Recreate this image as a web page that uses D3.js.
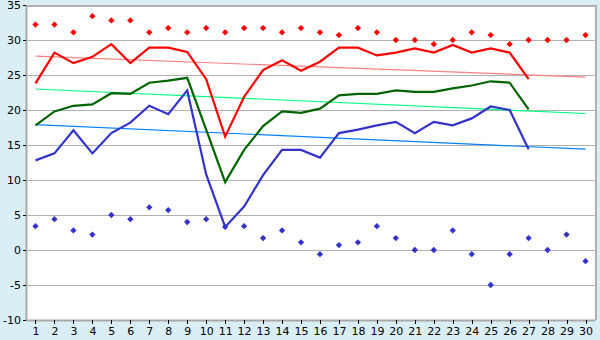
<!DOCTYPE html>
<html>
<head>
<meta charset="utf-8">
<script src="https://cdn.jsdelivr.net/npm/d3@7/dist/d3.min.js"></script>
<style>
  html, body { margin: 0; padding: 0; background: #daeef5; }
  svg { display: block; }
  text { font-family: "DejaVu Sans", Verdana, sans-serif; font-size: 11px; fill: #000; }
</style>
</head>
<body>
<svg id="chart" width="600" height="340"></svg>
<script>
const days = d3.range(1, 31);
const lineDays = d3.range(1, 28);
const yTicks = [-10, -5, 0, 5, 10, 15, 20, 25, 30, 35];

const recordMax = [32.2, 32.2, 31.1, 33.4, 32.8, 32.8, 31.1, 31.7, 31.1, 31.7,
                   31.1, 31.7, 31.7, 31.1, 31.7, 31.1, 30.7, 31.7, 31.1, 30.0,
                   30.0, 29.4, 30.0, 31.1, 30.7, 29.4, 30.0, 30.0, 30.0, 30.7];
const recordMin = [3.4, 4.4, 2.8, 2.2, 5.0, 4.4, 6.1, 5.7, 4.0, 4.4,
                   3.3, 3.4, 1.7, 2.8, 1.1, -0.6, 0.7, 1.1, 3.4, 1.7,
                   0.0, 0.0, 2.8, -0.6, -5.0, -0.6, 1.7, 0.0, 2.2, -1.6];
const meanMax = [23.8, 28.2, 26.7, 27.6, 29.4, 26.7, 28.9, 28.9, 28.3, 24.4,
                 16.2, 21.9, 25.7, 27.1, 25.6, 26.9, 28.9, 28.9, 27.8, 28.2,
                 28.8, 28.2, 29.3, 28.2, 28.8, 28.2, 24.4];
const meanAvg = [17.8, 19.8, 20.6, 20.8, 22.4, 22.3, 23.9, 24.2, 24.6, 17.2,
                 9.7, 14.3, 17.7, 19.8, 19.6, 20.2, 22.1, 22.3, 22.3, 22.8,
                 22.6, 22.6, 23.1, 23.5, 24.1, 23.9, 20.1];
const meanMin = [12.8, 13.8, 17.1, 13.8, 16.7, 18.2, 20.6, 19.4, 22.8, 10.8,
                 3.3, 6.2, 10.7, 14.3, 14.3, 13.2, 16.7, 17.2, 17.8, 18.3,
                 16.7, 18.3, 17.8, 18.8, 20.5, 20.0, 14.4];
const trendDays = [1, 30];
const trendMax = [27.7, 24.7];
const trendAvg = [23.0, 19.5];
const trendMin = [17.9, 14.4];

const svg = d3.select("#chart");
const mLeft = 26, mRight = 595, mTop = 5, mBottom = 320;

const x = d3.scalePoint().domain(days).range([mLeft, mRight]).padding(0.5);
const y = d3.scaleLinear().domain([-10, 35]).range([mBottom, mTop]);

// plot background
svg.append("rect").attr("x", mLeft).attr("y", mTop)
  .attr("width", mRight - mLeft).attr("height", mBottom - mTop)
  .attr("fill", "#ffffff");

// gridlines
svg.append("g").selectAll("line").data(yTicks.filter(v => v > -10)).join("line")
  .attr("x1", mLeft).attr("x2", mRight)
  .attr("y1", d => Math.round(y(d)) + 0.5).attr("y2", d => Math.round(y(d)) + 0.5)
  .attr("stroke", "#b0b0b0").attr("stroke-width", 1)
  .attr("shape-rendering", "crispEdges");

// right and top border
svg.append("line").attr("x1", mRight + 0.5).attr("x2", mRight + 0.5)
  .attr("y1", mTop).attr("y2", mBottom)
  .attr("stroke", "#b0b0b0").attr("stroke-width", 2).attr("shape-rendering", "crispEdges");
svg.append("line").attr("x1", mLeft).attr("x2", mRight + 1)
  .attr("y1", mTop + 0.5).attr("y2", mTop + 0.5)
  .attr("stroke", "#b0b0b0").attr("stroke-width", 2).attr("shape-rendering", "crispEdges");

// axes
const xAxis = d3.axisBottom(x).tickSize(4).tickSizeOuter(0).tickPadding(3);
const gx = svg.append("g").attr("transform", `translate(0,${mBottom})`).call(xAxis);
gx.select(".domain").attr("stroke", "#a8a8a8").attr("stroke-width", 2);
gx.selectAll(".tick line").attr("stroke", "#000").attr("shape-rendering", "crispEdges");
gx.selectAll("text").style("font-size", "11px");

const yAxis = d3.axisLeft(y).tickValues(yTicks).tickSize(3).tickSizeOuter(0).tickPadding(2)
  .tickFormat(d => d < 0 ? "-" + Math.abs(d) : d);
const gy = svg.append("g").attr("transform", `translate(${mLeft},0)`).call(yAxis);
gy.select(".domain").attr("stroke", "#a8a8a8").attr("stroke-width", 2);
gy.selectAll(".tick line").attr("stroke", "#000").attr("shape-rendering", "crispEdges");
gy.selectAll("text").style("font-size", "11px");

// trend lines
const trendLine = d3.line().x((d, i) => x(trendDays[i])).y(d => y(d));
[[trendMax, "#ff8080"], [trendAvg, "#00ff80"], [trendMin, "#0080ff"]].forEach(([vals, col]) => {
  svg.append("path").datum(vals).attr("d", trendLine)
    .attr("fill", "none").attr("stroke", col).attr("stroke-width", 1.2);
});

// main lines
const mainLine = d3.line().x((d, i) => x(lineDays[i])).y(d => y(d));
[[meanMin, "#3333cc"], [meanAvg, "#006400"], [meanMax, "#ff0000"]].forEach(([vals, col]) => {
  svg.append("path").datum(vals).attr("d", mainLine)
    .attr("fill", "none").attr("stroke", col).attr("stroke-width", 2.2)
    .attr("stroke-linejoin", "miter");
});

// diamond-cross markers (square rotated 45 degrees)
const marker = d3.symbol().type(d3.symbolSquare).size(20);
[[recordMax, "#ff0000"], [recordMin, "#3333cc"]].forEach(([vals, col]) => {
  svg.append("g").selectAll("path").data(vals).join("path")
    .attr("transform", (d, i) => `translate(${x(days[i])},${y(d)}) rotate(45)`)
    .attr("d", marker)
    .attr("fill", col);
});
</script>
</body>
</html>
